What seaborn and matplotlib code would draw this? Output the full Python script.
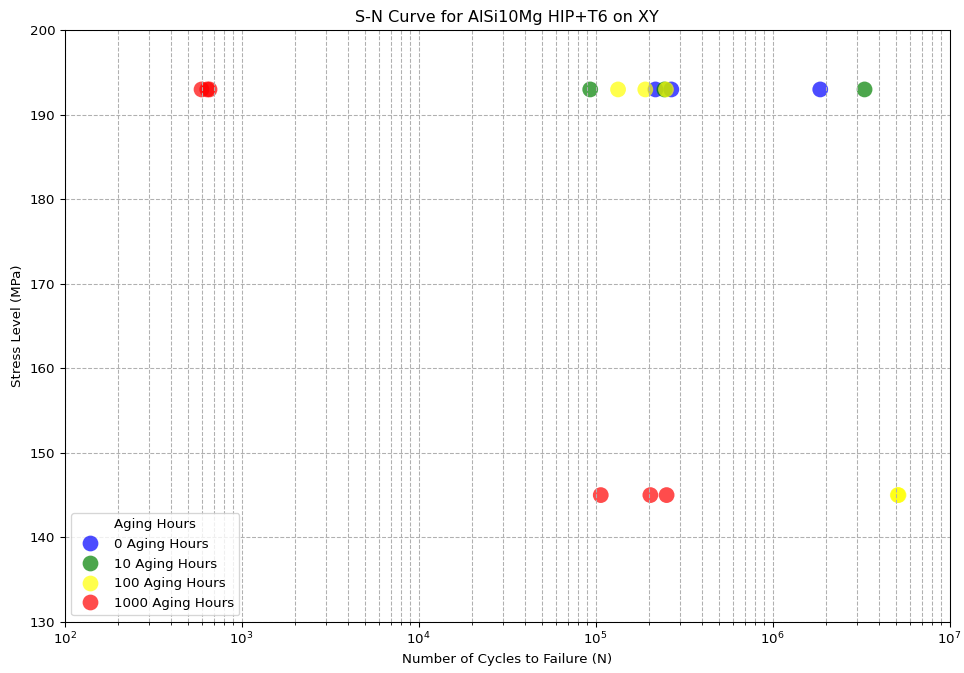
import numpy as np
import pandas as pd
import matplotlib
matplotlib.use("Agg")
import matplotlib.pyplot as plt
import seaborn as sns

aging_labels = ["0 Aging Hours", "10 Aging Hours", "100 Aging Hours", "1000 Aging Hours"]
colors = ["blue", "green", "yellow", "red"]

cycles_0 = [218000, 268000, 1860000]
stress_0 = [193, 193, 193]
cycles_10 = [93300, 245000, 3310000]
stress_10 = [193, 193, 193]
cycles_100 = [134000, 191000, 250000, 5150000, 5100000]
stress_100 = [193, 193, 193, 145, 145]
cycles_1000 = [594, 640, 659, 107000, 204000, 252000]
stress_1000 = [193, 193, 193, 145, 145, 145]

frames = []
for lab, c, s in zip(aging_labels,
                     [cycles_0, cycles_10, cycles_100, cycles_1000],
                     [stress_0, stress_10, stress_100, stress_1000]):
    frames.append(pd.DataFrame({"cycles": c, "stress": s, "group": lab}))
df = pd.concat(frames, ignore_index=True)

fig = plt.figure(figsize=(964 / 96, 673 / 96), dpi=96)
ax = fig.add_axes([0.067, 0.076, 0.918, 0.879])

sns.scatterplot(data=df, x="cycles", y="stress", hue="group",
                palette=dict(zip(aging_labels, colors)), hue_order=aging_labels,
                s=140, alpha=0.7, edgecolor="none", ax=ax)

ax.set_xscale("log")
ax.set_xlim(1e2, 1e7)
ax.set_ylim(130, 200)
ax.grid(True, which="both", linestyle="--", color="#b0b0b0", linewidth=0.8)
ax.set_title("S-N Curve for AlSi10Mg HIP+T6 on XY")
ax.set_xlabel("Number of Cycles to Failure (N)")
ax.set_ylabel("Stress Level (MPa)")
ax.legend(title="Aging Hours", loc="lower left")

fig.savefig("out.png", dpi=96)
